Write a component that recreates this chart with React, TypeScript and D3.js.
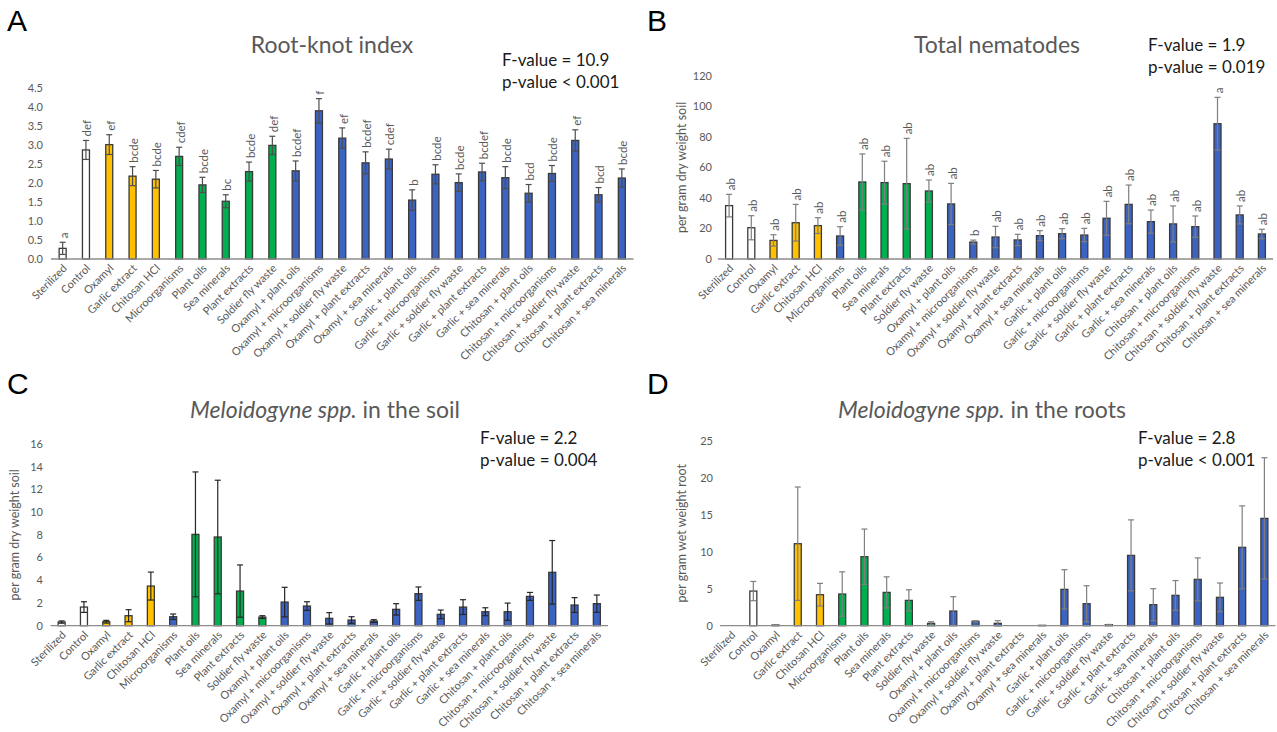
import * as d3 from "d3";

// treatments, same order in every panel
const categories = [
  "Sterilized", "Control", "Oxamyl", "Garlic extract", "Chitosan HCl",
  "Microorganisms", "Plant oils", "Sea minerals", "Plant extracts", "Soldier fly waste",
  "Oxamyl + plant oils", "Oxamyl + microorganisms", "Oxamyl + soldier fly waste",
  "Oxamyl + plant extracts", "Oxamyl + sea minerals", "Garlic + plant oils",
  "Garlic + microorganisms", "Garlic + soldier fly waste", "Garlic + plant extracts",
  "Garlic + sea minerals", "Chitosan + plant oils", "Chitosan + microorganisms",
  "Chitosan + soldier fly waste", "Chitosan + plant extracts", "Chitosan + sea minerals",
];

// A - root-knot index
const rootKnot = [0.28, 2.87, 3.01, 2.18, 2.1, 2.7, 1.95, 1.52, 2.3, 2.99, 2.32, 3.9, 3.18, 2.53, 2.63, 1.55, 2.23, 2.01, 2.29, 2.14, 1.73, 2.25, 3.12, 1.69, 2.13];
const rootKnotErr = [0.16, 0.25, 0.26, 0.25, 0.23, 0.24, 0.2, 0.17, 0.25, 0.24, 0.26, 0.32, 0.27, 0.29, 0.26, 0.27, 0.25, 0.23, 0.23, 0.29, 0.23, 0.21, 0.28, 0.19, 0.24];
const rootKnotLetters = ["a", "def", "ef", "bcde", "bcde", "cdef", "bcde", "bc", "bcde", "def", "bcdef", "f", "ef", "bcdef", "cdef", "b", "bcde", "bcde", "bcdef", "bcde", "bcd", "bcde", "ef", "bcd", "bcde"];
const rootKnotTicks = [0, 0.5, 1, 1.5, 2, 2.5, 3, 3.5, 4, 4.5];

// B - total nematodes
const totalNem = [35, 20.5, 12.2, 23.8, 21.9, 15.1, 50.5, 50.1, 49.4, 44.6, 36.1, 11.1, 14.4, 12.5, 15.3, 16.6, 15.7, 26.7, 35.8, 24.5, 23, 21.2, 88.7, 28.9, 16.4];
const totalNemErr = [7.4, 7.9, 3.7, 12, 5.2, 6.1, 18.4, 14, 29.7, 7.2, 13.5, 1.3, 7, 3.7, 3.3, 3.3, 4.4, 11.1, 12.7, 7.6, 11.8, 7, 17.3, 5.9, 3.1];
const totalNemLetters = ["ab", "ab", "ab", "ab", "ab", "ab", "ab", "ab", "ab", "ab", "ab", "b", "ab", "ab", "ab", "ab", "ab", "ab", "ab", "ab", "ab", "ab", "a", "ab", "ab"];
const totalNemTicks = [0, 20, 40, 60, 80, 100, 120];

// C - Meloidogyne in the soil
const melSoil = [0.32, 1.64, 0.35, 0.88, 3.49, 0.79, 8.04, 7.81, 3.05, 0.76, 2.08, 1.73, 0.65, 0.5, 0.41, 1.44, 2.82, 1.0, 1.64, 1.23, 1.23, 2.58, 4.7, 1.82, 1.94];
const melSoilErr = [0.1, 0.47, 0.12, 0.53, 1.23, 0.24, 5.5, 5.0, 2.3, 0.12, 1.3, 0.38, 0.5, 0.29, 0.12, 0.5, 0.59, 0.38, 0.65, 0.35, 0.76, 0.35, 2.8, 0.65, 0.76];
const melSoilTicks = [0, 2, 4, 6, 8, 10, 12, 14, 16];

// D - Meloidogyne in the roots
const melRoot = [0, 4.68, 0.09, 11.08, 4.19, 4.28, 9.32, 4.5, 3.42, 0.32, 1.98, 0.59, 0.32, 0, 0.05, 4.91, 2.97, 0.14, 9.5, 2.84, 4.1, 6.26, 3.83, 10.59, 14.5];
const melRootErr = [0, 1.3, 0.05, 7.66, 1.53, 3.0, 3.74, 2.1, 1.44, 0.22, 1.94, 0.08, 0.36, 0, 0, 2.66, 2.43, 0.03, 4.8, 2.16, 2.0, 2.9, 1.94, 5.6, 8.2];
const melRootTicks = [0, 5, 10, 15, 20, 25];

// colour group per bar: w = untreated, y = single chemical, g = single biological, b = combination
const groupsAD = ["w", "w", "y", "y", "y", "g", "g", "g", "g", "g", "b", "b", "b", "b", "b", "b", "b", "b", "b", "b", "b", "b", "b", "b", "b"];
const groupsBC = ["w", "w", "y", "y", "y", "b", "g", "g", "g", "g", "b", "b", "b", "b", "b", "b", "b", "b", "b", "b", "b", "b", "b", "b", "b"];

const fills: Record<string, string> = { w: "#ffffff", y: "#ffc000", g: "#00b050", b: "#3a63c4" };

const FONT = "Lato, 'Open Sans', sans-serif";
const GREY = "#595959";

function Panel(props: any) {
  const { values, errs, groups, letters, ticks, fmt, x0, x1, y0, y1, yAxisX, yTitle, yTitleX, errColor } = props;
  const yMax = ticks[ticks.length - 1];
  const x = d3.scalePoint().domain(categories).range([x0, x1]).padding(0.5);
  const y = d3.scaleLinear().domain([0, yMax]).range([y0, y1]);
  const bw = 7;
  const cap = 3;

  return (
    <g>
      {ticks.map((t: number) => (
        <text key={t} x={yAxisX} y={y(t)} dy="0.35em" textAnchor="end" fontSize={11} fill={GREY} fontFamily={FONT}>
          {fmt(t)}
        </text>
      ))}
      {yTitle && (
        <text
          transform={`translate(${yTitleX},${(y0 + y1) / 2}) rotate(-90)`}
          textAnchor="middle"
          fontSize={12.5}
          fill={GREY}
          fontFamily={FONT}
        >
          {yTitle}
        </text>
      )}
      {categories.map((c, i) => {
        const v = values[i];
        if (!v) return null;
        const cx = x(c) as number;
        return (
          <rect
            key={c}
            x={cx - bw / 2}
            y={y(v)}
            width={bw}
            height={y0 - y(v)}
            fill={fills[groups[i]]}
            stroke="#3a3a3a"
            strokeWidth={1.3}
          />
        );
      })}
      {categories.map((c, i) => {
        const v = values[i];
        const e = errs[i];
        if (!v || !e) return null;
        const cx = x(c) as number;
        const lo = y(Math.max(0, v - e));
        const hi = y(v + e);
        return (
          <g key={c} stroke={errColor} strokeWidth={1.2}>
            <line x1={cx} x2={cx} y1={lo} y2={hi} />
            <line x1={cx - cap} x2={cx + cap} y1={hi} y2={hi} />
            <line x1={cx - cap} x2={cx + cap} y1={lo} y2={lo} />
          </g>
        );
      })}
      {letters &&
        categories.map((c, i) => {
          const cx = x(c) as number;
          const top = y(values[i] + errs[i]) - 4;
          return (
            <text
              key={c}
              transform={`translate(${cx + 1},${top}) rotate(-90)`}
              dominantBaseline="central"
              fontSize={11.5}
              fill={GREY}
              fontFamily={FONT}
            >
              {letters[i]}
            </text>
          );
        })}
      <line x1={x0} x2={x1} y1={y0} y2={y0} stroke="#8c8c8c" strokeWidth={1.3} />
      {categories.map((c) => {
        const cx = x(c) as number;
        return (
          <text
            key={c}
            transform={`translate(${cx + 5},${y0 + 10}) rotate(-45)`}
            textAnchor="end"
            fontSize={11}
            fill={GREY}
            fontFamily={FONT}
          >
            {c}
          </text>
        );
      })}
    </g>
  );
}

function Stats(props: any) {
  return (
    <g fontFamily={FONT} fontSize={17} fill="#1a1a1a">
      <text x={props.x} y={props.y}>{props.f}</text>
      <text x={props.x} y={props.y + 22}>{props.p}</text>
    </g>
  );
}

const one = (d: number) => d.toFixed(1);
const int = (d: number) => String(d);

export default function App() {
  return (
    <svg width={1277} height={732} style={{ position: "absolute", left: 0, top: 0, background: "#fff" }}>
      <g fontFamily="'Liberation Sans', Arial, sans-serif" fontSize={30} fill="#000">
        <text x={7} y={31}>A</text>
        <text x={647} y={31}>B</text>
        <text x={7} y={394}>C</text>
        <text x={647} y={394}>D</text>
      </g>

      <g fontFamily={FONT} fontSize={23} fill={GREY} textAnchor="middle">
        <text x={332} y={53}>Root-knot index</text>
        <text x={997} y={53}>Total nematodes</text>
        <text x={325} y={418}>
          <tspan fontStyle="italic">Meloidogyne spp.</tspan> in the soil
        </text>
        <text x={982} y={418}>
          <tspan fontStyle="italic">Meloidogyne spp.</tspan> in the roots
        </text>
      </g>

      <Stats x={502} y={66} f="F-value = 10.9" p="p-value < 0.001" />
      <Stats x={1148} y={51} f="F-value = 1.9" p="p-value = 0.019" />
      <Stats x={480} y={444} f="F-value = 2.2" p="p-value = 0.004" />
      <Stats x={1138} y={444} f="F-value = 2.8" p="p-value < 0.001" />

      <Panel
        values={rootKnot}
        errs={rootKnotErr}
        groups={groupsAD}
        letters={rootKnotLetters}
        ticks={rootKnotTicks}
        fmt={one}
        x0={51}
        x1={633.5}
        y0={259}
        y1={88}
        yAxisX={43}
        errColor="#4d4d4d"
      />
      <Panel
        values={totalNem}
        errs={totalNemErr}
        groups={groupsBC}
        letters={totalNemLetters}
        ticks={totalNemTicks}
        fmt={int}
        x0={718}
        x1={1273}
        y0={259}
        y1={76}
        yAxisX={712}
        yTitle="per gram dry weight soil"
        yTitleX={686}
        errColor="#7f7f7f"
      />
      <Panel
        values={melSoil}
        errs={melSoilErr}
        groups={groupsBC}
        ticks={melSoilTicks}
        fmt={int}
        x0={50.5}
        x1={608}
        y0={625.7}
        y1={444}
        yAxisX={43}
        yTitle="per gram dry weight soil"
        yTitleX={19}
        errColor="#262626"
      />
      <Panel
        values={melRoot}
        errs={melRootErr}
        groups={groupsAD}
        ticks={melRootTicks}
        fmt={int}
        x0={720}
        x1={1275.5}
        y0={625.7}
        y1={440.7}
        yAxisX={713}
        yTitle="per gram wet weight root"
        yTitleX={686}
        errColor="#7f7f7f"
      />
    </svg>
  );
}
